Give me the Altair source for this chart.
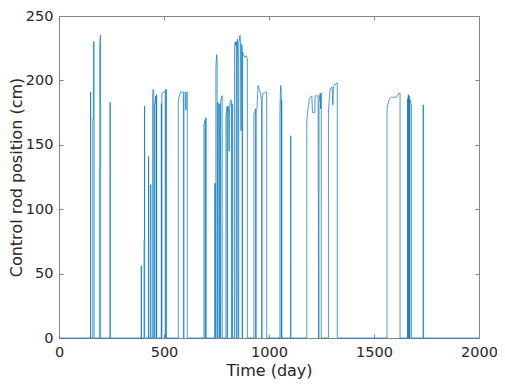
import altair as alt
import pandas as pd

# ---- data (time in days, rod position in cm) ----
time_day = [
    0,
    150, 150, 151, 151,
    161, 161, 164, 164, 167, 167,
    192, 192, 194, 194, 197, 198, 198,
    243, 243, 244, 244,
    391, 391, 393, 393,
    405, 405, 407, 407, 408, 408,
    426, 426, 427, 427,
    435, 435, 438, 438,
    446, 446, 448, 451, 451,
    455, 455, 458, 460, 461, 462, 462,
    464, 464, 465, 465,
    487, 487, 488, 488, 490, 490, 500, 505, 506, 506, 508, 508, 512, 512,
    568, 568, 570, 575, 580, 590, 592, 592, 595, 595, 600, 603, 604, 606, 610, 611, 611,
    690, 690, 695, 696, 696, 697, 697, 699, 701, 701,
    741, 741, 745, 745, 747, 747, 749, 751, 753, 753, 755, 755, 760, 762,
    764, 764, 768, 768, 770, 770, 775, 777, 777,
    795, 795, 798, 800, 800, 803, 803, 806, 808, 810, 812, 815, 818, 821, 821,
    824, 824, 827, 827,
    836, 836, 839, 842, 844, 844, 847, 847, 850, 852, 853, 856, 856, 860, 862,
    864, 866, 867, 868, 870, 872, 872, 874, 874, 878, 885, 892, 897, 897,
    928, 928, 933, 936, 936, 939, 939, 943, 946, 948, 952, 955, 958, 962, 965, 965,
    967, 967, 972, 978, 985, 989, 989,
    1052, 1052, 1054, 1056, 1058, 1058, 1060, 1060, 1061, 1061,
    1103, 1103, 1104, 1104,
    1180, 1180, 1184, 1188, 1192, 1198, 1204, 1207, 1212, 1218, 1220, 1228, 1234, 1236,
    1238, 1238, 1241, 1244, 1246, 1247, 1249, 1249,
    1283, 1283, 1287, 1290, 1295, 1300, 1302, 1304, 1306, 1309, 1312, 1318, 1322, 1325, 1325,
    1562, 1562, 1566, 1570, 1575, 1582, 1595, 1608, 1612, 1618, 1624, 1624,
    1660, 1660, 1661, 1661, 1663, 1663, 1665, 1665, 1667, 1667, 1669, 1669,
    1671, 1671, 1674, 1676, 1678, 1678,
    1734, 1734, 1735, 1735,
    2000,
]
rod_cm = [
    0,
    0, 191, 191, 0,
    0, 170, 170, 230, 230, 0,
    0, 131, 131, 228, 235, 235, 0,
    0, 183, 183, 0,
    0, 56, 56, 0,
    0, 76, 76, 180, 180, 0,
    0, 141, 141, 0,
    0, 119, 119, 0,
    0, 188, 193, 192, 0,
    0, 182, 182, 188, 182, 182, 0,
    0, 189, 189, 0,
    0, 182, 182, 0, 0, 190, 191, 192, 192, 0, 0, 193, 193, 0,
    0, 183, 186, 189, 191, 191, 191, 0, 0, 190, 191, 190, 177, 190, 191, 191, 0,
    0, 166, 168, 169, 0, 0, 169, 171, 171, 0,
    0, 120, 120, 0, 0, 210, 216, 220, 214, 0, 0, 183, 181, 0,
    0, 182, 180, 0, 0, 184, 188, 188, 0,
    0, 172, 176, 180, 0, 0, 178, 180, 175, 145, 178, 183, 185, 184, 0,
    0, 182, 180, 0,
    0, 225, 230, 227, 230, 0, 0, 226, 232, 200, 0, 0, 228, 233, 235,
    230, 170, 161, 190, 228, 226, 0, 0, 222, 220, 218, 219, 217, 0,
    0, 174, 176, 178, 0, 0, 175, 178, 190, 196, 194, 192, 191, 187, 185, 0,
    0, 186, 190, 190, 191, 191, 0,
    0, 174, 190, 196, 192, 0, 0, 185, 180, 0,
    0, 157, 157, 0,
    0, 168, 176, 180, 186, 187, 188, 175, 175, 175, 188, 188, 188, 0,
    0, 182, 188, 190, 178, 189, 190, 0,
    0, 175, 185, 192, 194, 195, 188, 181, 190, 196, 197, 197, 198, 198, 0,
    0, 178, 181, 184, 186, 187, 187, 187, 189, 190, 190, 0,
    0, 186, 186, 0, 0, 189, 188, 0, 0, 188, 186, 0,
    0, 185, 184, 182, 181, 0,
    0, 181, 181, 0,
    0,
]
x_ticks = [0, 500, 1000, 1500, 2000]
y_ticks = [0, 50, 100, 150, 200, 250]

df = pd.DataFrame({"t": time_day, "v": rod_cm, "i": list(range(len(time_day)))})

INK = "#262626"
BOX = "#858585"
xs = alt.Scale(domain=[0, 2000], nice=False, zero=False)
ys = alt.Scale(domain=[0, 250], nice=False, zero=False)

base = alt.Chart(df)

line = base.mark_line(color="#0072BD", strokeWidth=0.7).encode(
    x=alt.X("t:Q", scale=xs, axis=alt.Axis(
        title="Time (day)", values=x_ticks, format="d", ticks=False, domain=False,
        grid=False, labelFlush=False, labelPadding=7, titlePadding=4)),
    y=alt.Y("v:Q", scale=ys, axis=alt.Axis(
        title="Control rod position (cm)", values=y_ticks, format="d", ticks=False,
        domain=False, grid=False, labelFlush=False, labelPadding=6, titlePadding=1)),
    order=alt.Order("i:Q"),
)


def tick_layer(xo, yo):
    return base.mark_line(strokeOpacity=0).encode(
        x=alt.X("t:Q", scale=xs, axis=alt.Axis(
            orient=xo, values=x_ticks, labels=False, domain=False, grid=False,
            ticks=True, tickSize=4, offset=-4, title=None)),
        y=alt.Y("v:Q", scale=ys, axis=alt.Axis(
            orient=yo, values=y_ticks, labels=False, domain=False, grid=False,
            ticks=True, tickSize=4, offset=-4, title=None)),
        order=alt.Order("i:Q"),
    )


chart = alt.layer(
    line, tick_layer("bottom", "left"), tick_layer("top", "right")
).resolve_scale(
    x="independent", y="independent"
).properties(
    width=420, height=322,
    autosize=alt.AutoSizeParams(type="none"),
    padding={"left": 51, "top": 8, "right": 18, "bottom": 43},
).configure_view(
    stroke=BOX, strokeWidth=1
).configure_axis(
    labelFont="DejaVu Sans", labelFontSize=14.5, labelColor=INK,
    titleFont="DejaVu Sans", titleFontSize=16, titleFontWeight="normal", titleColor=INK,
    tickColor=BOX, tickWidth=1,
)

chart.save("out.html", embed_options={"renderer": "svg", "actions": False})
